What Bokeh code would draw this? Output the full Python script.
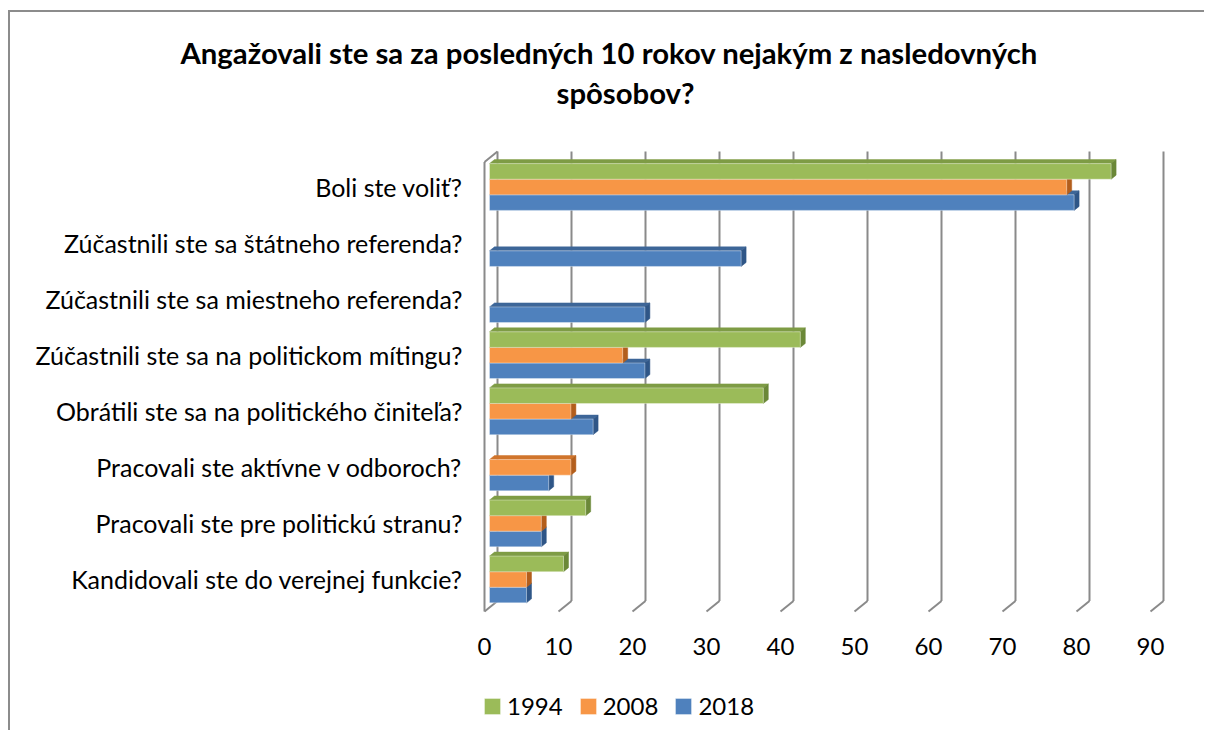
from bokeh.plotting import figure
from bokeh.models import (Range1d, FixedTicker, Legend, LegendItem, Title, ColumnDataSource)
from bokeh.core.properties import value
from bokeh.embed import file_html
from bokeh.resources import INLINE

# ---------------- data ----------------
categories = [
    "Boli ste voliť?",
    "Zúčastnili ste sa štátneho referenda?",
    "Zúčastnili ste sa miestneho referenda?",
    "Zúčastnili ste sa na politickom mítingu?",
    "Obrátili ste sa na politického činiteľa?",
    "Pracovali ste aktívne v odboroch?",
    "Pracovali ste pre politickú stranu?",
    "Kandidovali ste do verejnej funkcie?",
]
years = ["1994", "2008", "2018"]
v1994 = [84, None, None, 42, 37, None, 13, 10]
v2008 = [78, None, None, 18, 11, 11, 7, 5]
v2018 = [79, 34, 21, 21, 14, 8, 7, 5]
x_ticks = [0, 10, 20, 30, 40, 50, 60, 70, 80, 90]
title_lines = ["Angažovali ste sa za posledných 10 rokov nejakým z nasledovných", "spôsobov?"]

# ---------------- style ----------------
FONT = "Lato"
front = {"1994": "#9BBB59", "2008": "#F79646", "2018": "#4F81BD"}
topc = {"1994": "#7E9C45", "2008": "#D0752C", "2018": "#3D6698"}
sidec = {"1994": "#6B8838", "2008": "#B35E1C", "2018": "#2F5687"}

PX_X = 7.4      # px per value unit
PX_Y = 56.07    # px per category
BAR_H = 0.278
DX = 5 / PX_X   # depth of the bars
DY = 4 / PX_Y
BACK = 8 / PX_X     # back wall offset
FRONT = -5 / PX_X   # front floor offset

# canvas origin on page: (10, 12)
FR_TOP = 112
W, H = 1196, 720
p = figure(width=W, height=H, output_backend="svg", toolbar_location=None,
           x_range=Range1d(-15 / PX_X, 707 / PX_X),
           y_range=Range1d(-(728 - 186.5) / PX_Y, (186.5 - FR_TOP) / PX_Y),
           min_border_left=464, min_border_right=10, min_border_top=FR_TOP - 12,
           min_border_bottom=4)
p.margin = (10, 0, 0, 8)
p.styles = {"border-top": "2px solid #8c8c8c", "border-left": "2px solid #8c8c8c"}
p.outline_line_color = None
p.grid.visible = False
p.xaxis.visible = False
p.background_fill_color = "white"
p.border_fill_color = "white"

# title (two centred lines)
p.title = None
t2 = Title(text=title_lines[1], align="left", text_font=FONT,
           text_font_size="29.3px", text_font_style="bold", text_color="#000000",
           standoff=6, offset=82)
p.add_layout(t2, "above")
t1 = Title(text=title_lines[0], align="left", text_font=FONT,
           text_font_size="29.3px", text_font_style="bold", text_color="#000000",
           standoff=0, offset=-294)
p.add_layout(t1, "above")

# category axis
ypos = [-i for i in range(len(categories))]
yax = p.yaxis[0]
yax.ticker = FixedTicker(ticks=ypos)
yax.major_label_overrides = {y: c for y, c in zip(ypos, categories)}
yax.axis_line_color = None
yax.major_tick_line_color = None
yax.minor_tick_line_color = None
yax.major_tick_in = 0
yax.major_tick_out = 0
yax.major_label_standoff = 12
yax.major_label_text_font = FONT
yax.major_label_text_font_size = "25px"
yax.major_label_text_color = "#000000"

# gridlines on back wall + floor slant
y_top = (186.5 - 151) / PX_Y
y_floor_back = -(600.5 - 186.5) / PX_Y
y_floor_front = -(611 - 186.5) / PX_Y
gx = [k + BACK for k in x_ticks]
p.segment(x0=gx, y0=[y_top] * len(gx), x1=gx, y1=[y_floor_back] * len(gx),
          line_color="#8a8a8a", line_width=2)
p.segment(x0=gx, y0=[y_floor_back] * len(gx), x1=[k + FRONT for k in x_ticks],
          y1=[y_floor_front] * len(gx), line_color="#8a8a8a", line_width=2)
# left wall front edge
wall_top = -(161.5 - 186.5) / PX_Y
p.segment(x0=[FRONT], y0=[wall_top], x1=[FRONT], y1=[y_floor_front],
          line_color="#8a8a8a", line_width=2)
p.segment(x0=[FRONT], y0=[wall_top], x1=[BACK], y1=[y_top],
          line_color="#8a8a8a", line_width=2)

# bars (drawn back-to-front: 2018, 2008, 1994)
series = {"1994": v1994, "2008": v2008, "2018": v2018}
shift = {"1994": BAR_H, "2008": 0.0, "2018": -BAR_H}
front_r = {}
for yr in ["2018", "2008", "1994"]:
    vals = series[yr]
    ys, vs = [], []
    for i, v in enumerate(vals):
        if v is None:
            continue
        ys.append(-i + shift[yr])
        vs.append(v)
    tops_x, tops_y, side_x, side_y = [], [], [], []
    for y, v in zip(ys, vs):
        yt = y + BAR_H / 2
        yb = y - BAR_H / 2
        tops_x.append([0, DX, v + DX, v])
        tops_y.append([yt, yt + DY, yt + DY, yt])
        side_x.append([v, v + DX, v + DX, v])
        side_y.append([yt, yt + DY, yb + DY, yb])
    p.patches(tops_x, tops_y, fill_color=topc[yr], line_color=topc[yr], line_width=0.5)
    p.patches(side_x, side_y, fill_color=sidec[yr], line_color=sidec[yr], line_width=0.5)
    src = ColumnDataSource(dict(y=ys, right=vs))
    r = p.hbar(y="y", left=0, right="right", height=BAR_H, source=src,
               fill_color=front[yr], line_color="#ffffff", line_alpha=0.35, line_width=1)
    front_r[yr] = r

# value tick labels on the front floor edge
y_lab = -(645.5 - 186.5) / PX_Y
p.text(x=[k + FRONT for k in x_ticks], y=[y_lab] * len(x_ticks),
       text=[str(k) for k in x_ticks], text_align="center", text_baseline="middle",
       text_font=value(FONT), text_font_size="24px", text_color="#000000")

legend = Legend(items=[LegendItem(label=yr, renderers=[front_r[yr]]) for yr in years],
                orientation="horizontal", location=(8, 8), glyph_width=20,
                glyph_height=20, label_standoff=5, spacing=15, padding=0, margin=0,
                border_line_color=None, background_fill_alpha=0,
                label_text_font=FONT, label_text_font_size="24px",
                label_text_color="#000000")
p.add_layout(legend)

open("out.html", "w").write(file_html(p, INLINE))
